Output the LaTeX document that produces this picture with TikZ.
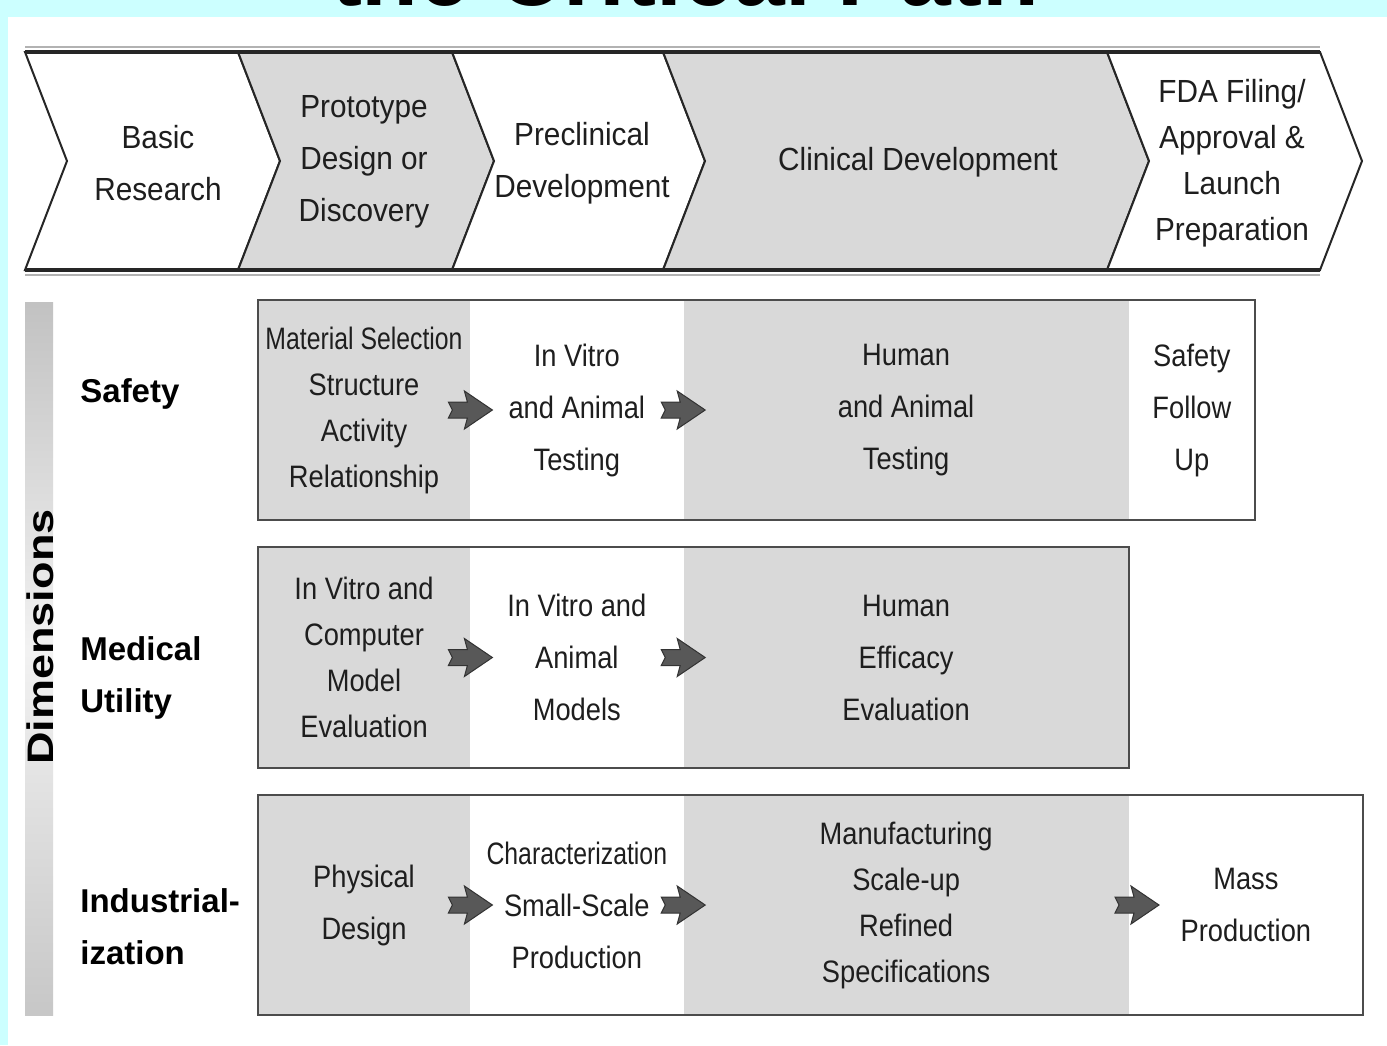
\documentclass[tikz,border=0pt]{standalone}
\usepackage{graphicx}
\usepackage{fontspec}
\setmainfont{Liberation Sans}[FakeStretch=0.93]
\newfontfamily\cellfont{Liberation Sans}[FakeStretch=0.88]
\newfontfamily\narrowfont{Liberation Sans}[FakeStretch=0.8]
\newfontfamily\labelfont{Liberation Sans}
\usepackage{tikz}
\usetikzlibrary{positioning}

\definecolor{slidecyan}{RGB}{204,255,255}
\definecolor{panelgray}{RGB}{217,217,217}
\definecolor{arrowgray}{RGB}{88,88,88}
\definecolor{inkgray}{RGB}{30,30,30}

\tikzset{
  phase/.style={font=\fontsize{16}{26}\selectfont, align=center, text=inkgray},
  cellbox/.style={minimum height=110pt, minimum width=106pt, inner sep=0pt,
    align=center, text=inkgray, font=\cellfont\fontsize{15.5}{26}\selectfont},
  graycell/.style={cellbox, fill=panelgray},
  whitecell/.style={cellbox, fill=white},
  tight/.style={font=\cellfont\fontsize{15.5}{23}\selectfont},
  rowframe/.style={draw=black!70, line width=1pt},
  rowlabel/.style={font=\labelfont\bfseries\fontsize{16.5}{26}\selectfont,
    align=left, anchor=west, inner xsep=0pt, text=black},
  fatarrow/.pic={
    \filldraw[fill=arrowgray, draw=black!80, line width=0.5pt]
      (-22,-8) -- (-3,-8) -- (-6,-19) -- (22,0) -- (-6,19) -- (-3,8)
      -- (-22,8) -- (-18,0) -- cycle;
  }
}

\begin{document}
\begin{tikzpicture}[x=0.5pt, y=-0.5pt]
\useasboundingbox (0,0) rectangle (1387,1045);
\fill[slidecyan] (0,0) rectangle (1387,1045);
\fill[white] (8,17) rectangle (1387,1045);
\node[font=\bfseries\fontsize{50}{50}\selectfont, anchor=base] (title) at (685,5) {the Critical Path};

% phases of the path
\foreach \a/\b/\c in {25/238/white, 238/452/panelgray, 452/663/white, 663/1107/panelgray, 1107/1320/white}
  \filldraw[fill=\c, draw=black!85, line width=1pt]
    (\a,52) -- (\b,52) -- (\b+42,161) -- (\b,270) -- (\a,270) -- (\a+42,161) -- cycle;
\draw[black!30, line width=1pt] (25,47) -- (1320,47) (25,275) -- (1320,275);
\draw[black!85, line width=2pt] (25,52) -- (1320,52) (25,270) -- (1320,270);

\node[phase] (basic) at (158,163) {Basic\\Research};
\node[phase] (proto) at (364,162) {Prototype\\Design or\\Discovery};
\node[phase] (precl) at (582,163) {Preclinical\\Development};
\node[phase] (clin) at (918,162) {Clinical Development};
\node[phase, font=\fontsize{16}{23}\selectfont] (fda) at (1232,163) {FDA Filing/\\Approval \&\\Launch\\Preparation};

% dimensions bar
\shade[top color=black!24, bottom color=black!5] (25,302) rectangle (53,650);
\shade[top color=black!5, bottom color=black!22] (25,650) rectangle (53,1015);
\node[rotate=90, font=\labelfont\bfseries\fontsize{22.5}{26}\selectfont] (dims) at (40,637) {\scalebox{1}[0.82]{Dimensions}};

\node[rowlabel] (safety) at (80,394) {Safety};
\node[rowlabel] (medical) at (80,678) {Medical\\Utility};
\node[rowlabel] (indus) at (80,927) {Industrial-\\ization};

% safety row
\node[graycell, tight] (s1) at (364,410) {{\narrowfont Material Selection}\\Structure\\Activity\\Relationship};
\node[whitecell, right=0pt of s1] (s2) {In Vitro\\and Animal\\Testing};
\node[graycell, right=0pt of s2, minimum width=222.5pt] (s3) {Human\\and Animal\\Testing};
\node[whitecell, right=0pt of s3, minimum width=62.5pt] (s4) {Safety\\Follow\\Up};
\draw[rowframe] (s1.north west) rectangle (s4.south east);
\pic at (s1.east) {fatarrow};
\pic at (s2.east) {fatarrow};

% medical utility row
\node[graycell, tight] (m1) at (364,657.5) {In Vitro and\\Computer\\Model\\Evaluation};
\node[whitecell, right=0pt of m1] (m2) {In Vitro and\\Animal\\Models};
\node[graycell, right=0pt of m2, minimum width=222.5pt] (m3) {Human\\Efficacy\\Evaluation};
\draw[rowframe] (m1.north west) rectangle (m3.south east);
\pic at (m1.east) {fatarrow};
\pic at (m2.east) {fatarrow};

% industrialization row
\node[graycell] (i1) at (364,905) {Physical\\Design};
\node[whitecell, right=0pt of i1] (i2) {{\narrowfont Characterization}\\Small-Scale\\Production};
\node[graycell, tight, right=0pt of i2, minimum width=222.5pt] (i3) {Manufacturing\\Scale-up\\Refined\\Specifications};
\node[whitecell, right=0pt of i3, minimum width=116.5pt] (i4) {Mass\\Production};
\draw[rowframe] (i1.north west) rectangle (i4.south east);
\pic at (i1.east) {fatarrow};
\pic at (i2.east) {fatarrow};
\pic at ([xshift=4pt]i3.east) {fatarrow};
\end{tikzpicture}
\end{document}
